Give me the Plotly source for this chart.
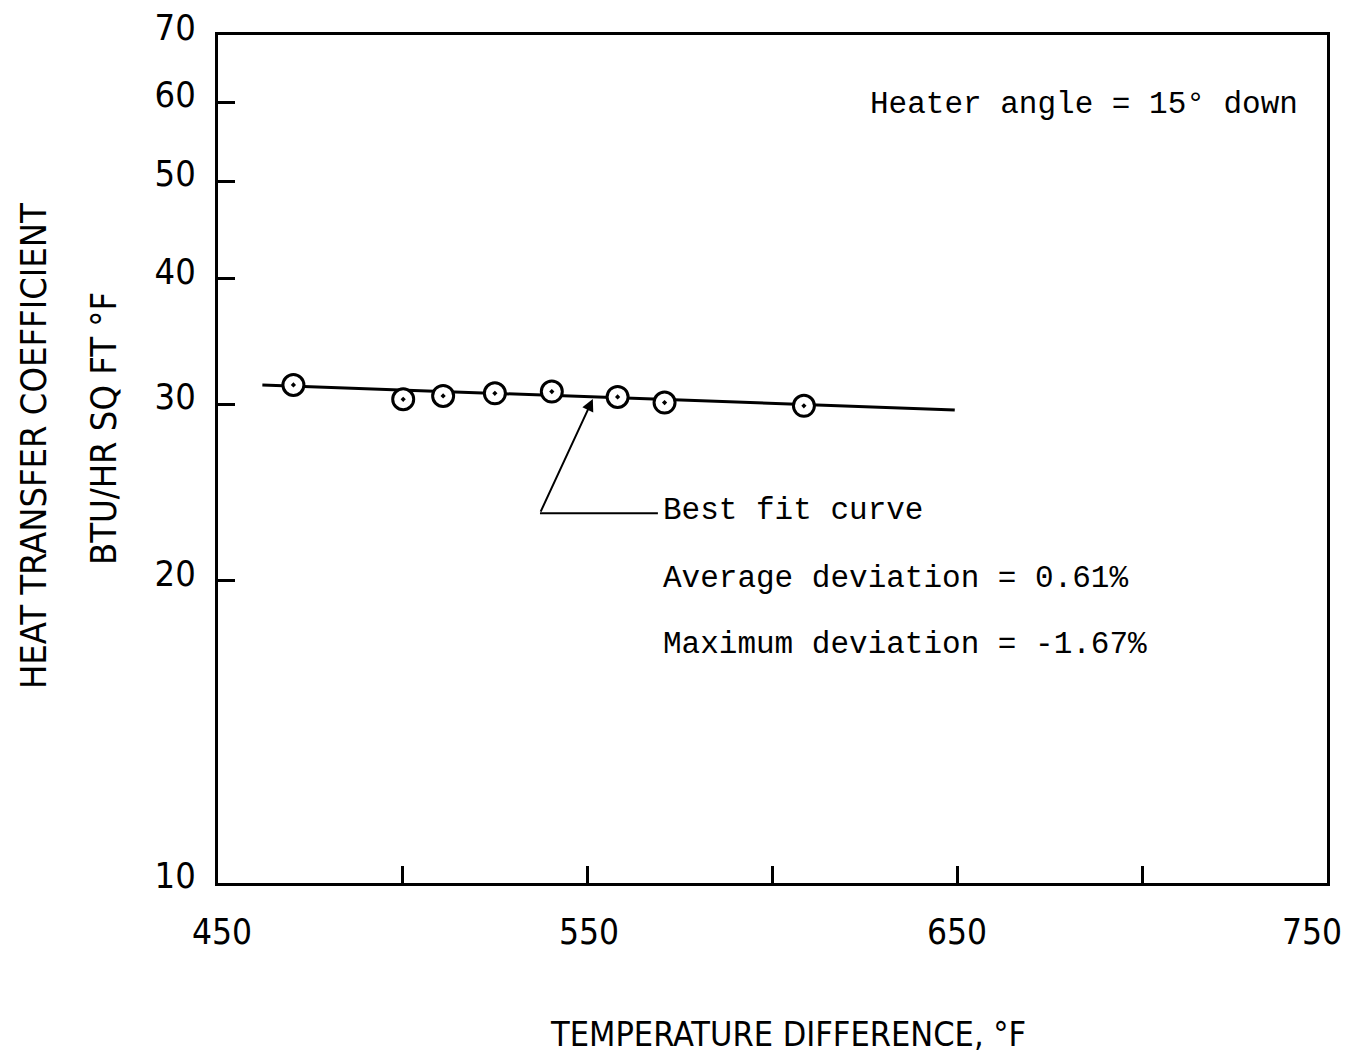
import math
import plotly.graph_objects as go

# Measured heat transfer coefficients vs. temperature difference
delta_t = [470.4, 500.1, 510.9, 524.9, 540.3, 558.1, 570.8, 608.5]
h_coef = [31.36, 30.35, 30.58, 30.77, 30.89, 30.51, 30.12, 29.90]

# Best fit curve
fit_dt = [462.0, 555.0, 649.3]
fit_h = [31.36, 30.47, 29.61]

# Axis ticks (x labels every 100, ticks every 50)
x_tickvals = [450, 500, 550, 600, 650, 700, 750]
x_labelvals = [450, 550, 650, 750]
x_labeltext = ["450", "550", "650", "750"]
x_label_shift = [4, 1, 0, -15]
y_tickvals = [10, 20, 30, 40, 50, 60, 70]
y_ticktext = ["10", "20", "30", "40", "50", "60", "70"]

# Leader for the "Best fit curve" note: text end -> elbow -> arrow tip on the curve
leader_x = [569.0, 537.1]
leader_y = [23.37, 23.37]
arrow_tip = (551.4, 30.37)

notes = [
    ("Heater angle = 15° down", 0.5861, 0.9186),
    ("Best fit curve", 0.3995, 0.4387),
    ("Average deviation = 0.61%", 0.3995, 0.3585),
    ("Maximum deviation = -1.67%", 0.3995, 0.2818),
]

narrow = "DejaVu Sans Condensed, Liberation Sans Narrow, sans-serif"
mono = "Liberation Mono, DejaVu Sans Mono, Courier New, monospace"

fig = go.Figure()

fig.add_trace(go.Scatter(
    x=fit_dt, y=fit_h, mode="lines",
    line=dict(color="black", width=3),
    showlegend=False, hoverinfo="skip",
))

fig.add_trace(go.Scatter(
    x=leader_x, y=leader_y, mode="lines",
    line=dict(color="black", width=2),
    showlegend=False, hoverinfo="skip",
))

fig.add_trace(go.Scatter(
    x=delta_t, y=h_coef, mode="markers",
    marker=dict(symbol="circle-dot", size=21, color="white",
                line=dict(color="black", width=3)),
    showlegend=False,
))

# Arrow from the leader elbow up to the curve
fig.add_annotation(
    x=arrow_tip[0], y=math.log10(arrow_tip[1]),
    ax=leader_x[1], ay=math.log10(leader_y[1]),
    xref="x", yref="y", axref="x", ayref="y",
    text="", showarrow=True,
    arrowhead=2, arrowsize=1.2, arrowwidth=2, arrowcolor="black",
)

for text, xp, yp in notes:
    fig.add_annotation(
        x=xp, y=yp, xref="paper", yref="paper",
        text=text, showarrow=False,
        xanchor="left", yanchor="middle",
        font=dict(family=mono, size=31, color="black"),
    )

# X tick labels
for val, txt, shift in zip(x_labelvals, x_labeltext, x_label_shift):
    fig.add_annotation(
        x=val, y=-0.0578, xref="x", yref="paper",
        text=txt, showarrow=False, xshift=shift,
        xanchor="center", yanchor="middle",
        font=dict(family=narrow, size=35, color="black"),
    )

# Axis titles
fig.add_annotation(
    x=-0.1668, y=0.5153, xref="paper", yref="paper",
    text="HEAT TRANSFER COEFFICIENT", textangle=-90, showarrow=False,
    xanchor="center", yanchor="middle",
    font=dict(family=narrow, size=36, color="black"),
)
fig.add_annotation(
    x=-0.1028, y=0.5366, xref="paper", yref="paper",
    text="BTU/HR SQ FT °F", textangle=-90, showarrow=False,
    xanchor="center", yanchor="middle",
    font=dict(family=narrow, size=36, color="black"),
)
fig.add_annotation(
    x=0.514, y=-0.178, xref="paper", yref="paper",
    text="TEMPERATURE DIFFERENCE, °F", showarrow=False,
    xanchor="center", yanchor="middle",
    font=dict(family=narrow, size=34, color="black"),
)

fig.update_xaxes(
    range=[450, 750], automargin=False,
    tickvals=x_tickvals, showticklabels=False,
    ticks="inside", ticklen=17, tickwidth=3, tickcolor="black",
    showline=True, linewidth=3, linecolor="black", mirror=True,
    showgrid=False, zeroline=False,
)
fig.update_yaxes(
    type="log",
    range=[1, math.log10(70.02)], automargin=False,
    tickvals=y_tickvals, ticktext=y_ticktext,
    ticks="inside", ticklen=17, tickwidth=3, tickcolor="black",
    ticklabelstandoff=12, ticklabelshift=-8, ticklabeloverflow="allow",
    showline=True, linewidth=3, linecolor="black", mirror=True,
    showgrid=False, zeroline=False,
    tickfont=dict(family=narrow, size=36, color="black"),
)

fig.update_layout(
    width=1346, height=1057,
    margin=dict(l=218, r=19, t=35, b=174, autoexpand=False),
    paper_bgcolor="white", plot_bgcolor="white",
    showlegend=False,
)

fig.write_html("out.html")
